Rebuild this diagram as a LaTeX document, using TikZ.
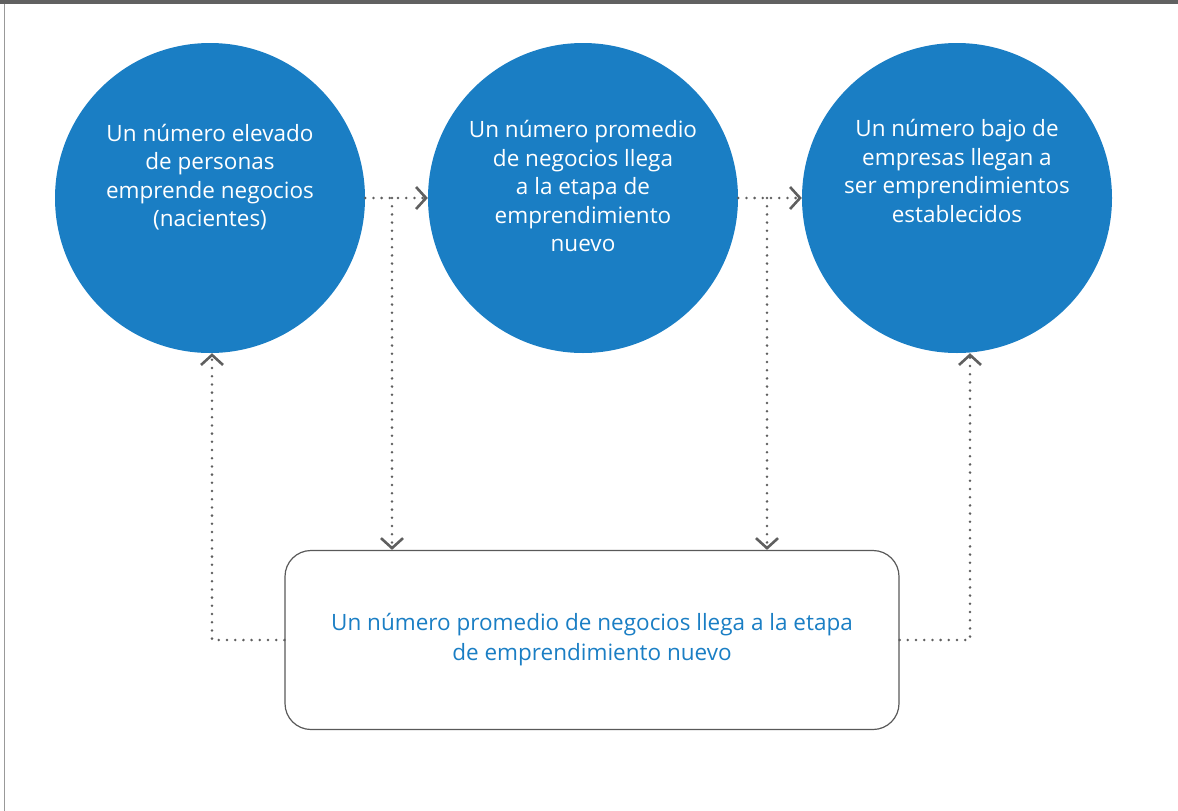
\documentclass[tikz,border=0pt]{standalone}
\usepackage{fontspec}
\setmainfont{Open Sans}
\usepackage{xcolor}
\usetikzlibrary{positioning,arrows.meta}

\definecolor{stageblue}{HTML}{1A7EC4}
\definecolor{dotgray}{HTML}{5F5F5F}

\begin{document}
\begin{tikzpicture}[x=1pt,y=-1pt,
                stage/.style = {circle, fill=stageblue, minimum size=310pt, inner sep=0pt},
                stagetext/.style = {text=white, align=center, font=\fontsize{22.5}{28.5}\selectfont},
                flow/.style = {draw=dotgray, line width=2.8pt, line cap=round, dash pattern=on 0pt off 8.2pt,
                               -{Straight Barb[length=10pt,width=22pt,line width=2.6pt]}}]
            \useasboundingbox (0,0) rectangle (1178,811);
            % frame
            \fill[black!62] (0,0) rectangle (1178,3.5);
            \draw[black!40, line width=1.5pt] (4.5,3.5) -- (4.5,811);
            % stages
            \node[stage] (c1) at (210,198) {};
            \node[stage] (c2) at (583,198) {};
            \node[stage] (c3) at (957,198) {};
            \node[stagetext] (t1) at ([yshift=21pt]c1.center) {Un número elevado\\de personas\\emprende negocios\\(nacientes)};
            \node[stagetext] (t2) at ([yshift=12pt]c2.center) {Un número promedio\\de negocios llega\\a la etapa de\\emprendimiento\\nuevo};
            \node[stagetext] (t3) at ([yshift=27pt]c3.center) {Un número bajo de\\empresas llegan a\\ser emprendimientos\\establecidos};
            % box
            \node[draw=black!65, line width=1.2pt, rounded corners=26pt, minimum width=614pt, minimum height=179pt,
                  text=stageblue, align=center, font=\fontsize{22.5}{30}\selectfont] (box) at (592,640)
                {Un número promedio de negocios llega a la etapa\\de emprendimiento nuevo};
            % connectors
            \coordinate (j1) at (392,198);
            \coordinate (j2) at (767,198);
            \draw[flow] (c1.east) -- (c2.west);
            \draw[flow] (c2.east) -- (c3.west);
            \draw[flow] (j1) -- (j1 |- box.north);
            \draw[flow] (j2) -- (j2 |- box.north);
            \draw[flow] (box.west) -| ([xshift=2pt]c1.south);
            \draw[flow] (box.east) -| ([xshift=13pt]c3.south);
            \end{tikzpicture}
\end{document}
